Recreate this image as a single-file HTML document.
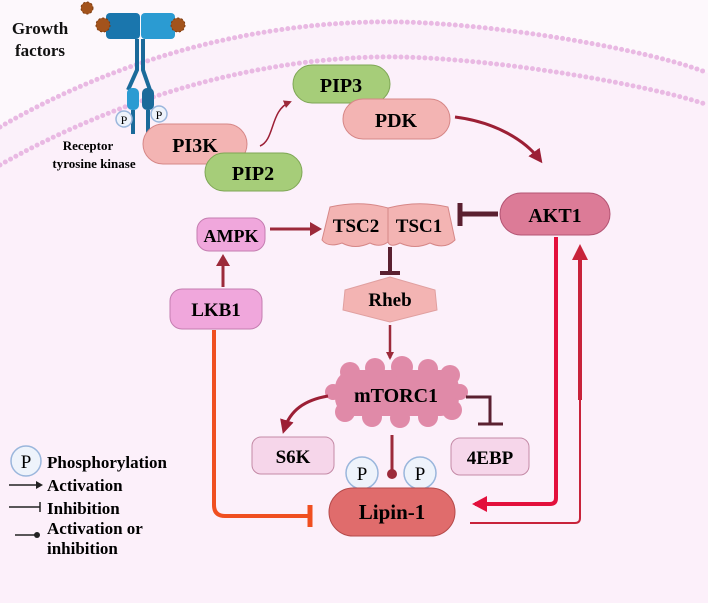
<!DOCTYPE html>
<html><head><meta charset="utf-8"><style>
html,body{margin:0;padding:0;background:#fdf7fc;}
svg{display:block;font-family:"Liberation Serif",serif;font-weight:bold;}
</style></head><body>
<svg width="708" height="603" viewBox="0 0 708 603" xmlns="http://www.w3.org/2000/svg">
<defs>
<marker id="ah" markerWidth="8" markerHeight="8" refX="6" refY="4" orient="auto" markerUnits="userSpaceOnUse"><path d="M0,0 L8,4 L0,8 z" fill="#9c2a3a"/></marker>
<marker id="ahb" markerWidth="14" markerHeight="14" refX="10" refY="7" orient="auto" markerUnits="userSpaceOnUse"><path d="M0,0 L14,7 L0,14 z" fill="#9c1f35"/></marker>
</defs>
<rect width="708" height="603" fill="#fdf8fc"/>
<path d="M0,165 C150,80 300,55 400,57 S650,85 708,105 L708,603 L0,603 z" fill="#fcf0fa"/>
<path d="M0,127 C150,40 300,20 400,22 S650,50 708,73 L708,105 S650,85 400,57 C300,55 150,80 0,165 z" fill="#fbf1fa"/>
<path d="M0,127 C150,40 300,20 400,22 S650,50 708,73" fill="none" stroke="#e9b9e3" stroke-width="5" stroke-linecap="round" stroke-dasharray="0 6"/>
<path d="M0,165 C150,80 300,55 400,57 S650,85 708,105" fill="none" stroke="#e9b9e3" stroke-width="5" stroke-linecap="round" stroke-dasharray="0 6"/>

<text x="40" y="34" font-size="17" text-anchor="middle" fill="#111">Growth</text>
<text x="40" y="56" font-size="17" text-anchor="middle" fill="#111">factors</text>

<rect x="106" y="13" width="34" height="26" rx="4" fill="#1a76ad"/>
<rect x="141" y="13" width="34" height="26" rx="4" fill="#2b9bd2"/>
<circle cx="87" cy="8" r="6" fill="#a3531c" stroke="#7a3a10" stroke-dasharray="2 2"/>
<circle cx="103" cy="25" r="7" fill="#a3531c" stroke="#7a3a10" stroke-dasharray="2 2"/>
<circle cx="178" cy="25" r="7" fill="#a3531c" stroke="#7a3a10" stroke-dasharray="2 2"/>
<path d="M137,39 L137,70 L128,90 M143,39 L143,70 L150,90" stroke="#1a6a9a" stroke-width="4" fill="none"/>
<rect x="127" y="88" width="12" height="22" rx="5" fill="#2b9bd2"/>
<rect x="142" y="88" width="12" height="22" rx="5" fill="#1a6a9a"/>
<path d="M133,110 L133,134 M148,110 L148,134" stroke="#1a6a9a" stroke-width="4"/>
<circle cx="124" cy="119" r="8" fill="#eef3fb" stroke="#9ab6dc" stroke-width="1.5"/>
<text x="124" y="124" font-size="12" font-weight="normal" text-anchor="middle">P</text>
<circle cx="159" cy="114" r="8" fill="#eef3fb" stroke="#9ab6dc" stroke-width="1.5"/>
<text x="159" y="119" font-size="12" font-weight="normal" text-anchor="middle">P</text>
<text x="88" y="150" font-size="13" text-anchor="middle">Receptor</text>
<text x="94" y="168" font-size="13" text-anchor="middle">tyrosine kinase</text>

<rect x="143" y="124" width="104" height="40" rx="20" fill="#f3b4b3" stroke="#d68787"/>
<text x="195" y="152" font-size="20" text-anchor="middle">PI3K</text>
<rect x="205" y="153" width="97" height="38" rx="19" fill="#a6cd79" stroke="#7ea655"/>
<text x="253" y="180" font-size="20" text-anchor="middle">PIP2</text>
<path d="M260,146 C275,140 270,110 290,102" fill="none" stroke="#9c1f35" stroke-width="1.5" marker-end="url(#ah)"/>
<rect x="293" y="65" width="97" height="38" rx="19" fill="#a6cd79" stroke="#7ea655"/>
<text x="341" y="92" font-size="20" text-anchor="middle">PIP3</text>
<rect x="343" y="99" width="107" height="40" rx="20" fill="#f3b4b3" stroke="#d68787"/>
<text x="396" y="127" font-size="20" text-anchor="middle">PDK</text>
<path d="M455,117 C495,122 525,140 540,160" fill="none" stroke="#9c1f35" stroke-width="3" marker-end="url(#ahb)"/>

<rect x="500" y="193" width="110" height="42" rx="21" fill="#dc7b97" stroke="#b35473"/>
<text x="555" y="222" font-size="20" text-anchor="middle">AKT1</text>
<path d="M498,214 L462,214" stroke="#5a2030" stroke-width="5"/>
<path d="M460,203 L460,226" stroke="#5a2030" stroke-width="5"/>

<path d="M330,207 Q360,200 388,208 Q418,200 448,207 L455,240 Q445,250 430,243 Q415,250 400,243 Q390,248 388,242 Q380,248 370,243 Q355,250 342,243 Q328,248 322,240 z" fill="#f3b4b3" stroke="#d68787"/>
<path d="M388,208 L388,242" stroke="#d68787"/>
<text x="356" y="232" font-size="19" text-anchor="middle">TSC2</text>
<text x="419" y="232" font-size="19" text-anchor="middle">TSC1</text>
<path d="M390,247 L390,272" stroke="#5a2030" stroke-width="4"/>
<path d="M380,273 L400,273" stroke="#5a2030" stroke-width="4"/>

<path d="M345,290 L390,277 L435,290 L437,310 L390,322 L343,310 z" fill="#f3b4b3" stroke="#e0a0a0"/>
<text x="390" y="306" font-size="19" text-anchor="middle">Rheb</text>
<path d="M390,325 L390,358" stroke="#9c2a3a" stroke-width="2.5" marker-end="url(#ah)"/>

<g fill="#e08aa8">
<rect x="335" y="370" width="124" height="46" rx="18"/>
<circle cx="350" cy="372" r="10"/><circle cx="375" cy="368" r="10"/><circle cx="402" cy="367" r="11"/><circle cx="428" cy="369" r="10"/><circle cx="450" cy="375" r="10"/>
<circle cx="345" cy="412" r="10"/><circle cx="372" cy="417" r="10"/><circle cx="400" cy="418" r="10"/><circle cx="428" cy="417" r="10"/><circle cx="452" cy="410" r="10"/>
<circle cx="333" cy="392" r="8"/><circle cx="460" cy="392" r="8"/>
</g>
<text x="396" y="402" font-size="20" text-anchor="middle">mTORC1</text>
<path d="M466,397 L490,397 L490,423" fill="none" stroke="#5a2030" stroke-width="3"/>
<path d="M478,424 L503,424" stroke="#5a2030" stroke-width="3"/>
<path d="M328,396 C305,400 290,410 284,430" fill="none" stroke="#9c1f35" stroke-width="3" marker-end="url(#ahb)"/>

<rect x="252" y="437" width="82" height="37" rx="9" fill="#f6d6ea" stroke="#c48aa6"/>
<text x="293" y="463" font-size="19" text-anchor="middle">S6K</text>
<rect x="451" y="438" width="78" height="37" rx="9" fill="#f6d6ea" stroke="#c48aa6"/>
<text x="490" y="464" font-size="19" text-anchor="middle">4EBP</text>

<path d="M392,435 L392,472" stroke="#9c2a3a" stroke-width="3"/>
<circle cx="392" cy="474" r="5" fill="#9c2a3a"/>
<circle cx="362" cy="473" r="16" fill="#eef3fb" stroke="#9ab6dc" stroke-width="1.5"/>
<text x="362" y="480" font-size="19" font-weight="normal" text-anchor="middle">P</text>
<circle cx="420" cy="473" r="16" fill="#eef3fb" stroke="#9ab6dc" stroke-width="1.5"/>
<text x="420" y="480" font-size="19" font-weight="normal" text-anchor="middle">P</text>

<rect x="329" y="488" width="126" height="48" rx="24" fill="#e06c6c" stroke="#b54a4a"/>
<text x="392" y="519" font-size="21" text-anchor="middle">Lipin-1</text>

<rect x="197" y="218" width="68" height="33" rx="12" fill="#f0a7dc" stroke="#c47db0"/>
<text x="231" y="242" font-size="18" text-anchor="middle">AMPK</text>
<path d="M270,229 L312,229" stroke="#9c2a3a" stroke-width="3"/>
<path d="M310,222 L322,229 L310,236 z" fill="#9c2a3a"/>
<rect x="170" y="289" width="92" height="40" rx="12" fill="#f0a7dc" stroke="#c47db0"/>
<text x="216" y="316" font-size="19" text-anchor="middle">LKB1</text>
<path d="M223,287 L223,264" stroke="#9c2a3a" stroke-width="3"/>
<path d="M216,266 L223,254 L230,266 z" fill="#9c2a3a"/>
<path d="M214,330 L214,505 Q214,516 225,516 L308,516" fill="none" stroke="#f04f20" stroke-width="4"/>
<path d="M310,505 L310,527" stroke="#f04f20" stroke-width="5"/>

<path d="M556,237 L556,498 Q556,504 550,504 L475,504" fill="none" stroke="#e3103c" stroke-width="4"/>
<path d="M472,504 L487,496 L487,512 z" fill="#e3103c"/>
<path d="M470,523 L575,523 Q580,523 580,518 L580,255" fill="none" stroke="#c8233a" stroke-width="2"/>
<path d="M580,400 L580,255" stroke="#c8233a" stroke-width="4"/>
<path d="M572,260 L580,244 L588,260 z" fill="#c8233a"/>

<circle cx="26" cy="461" r="15" fill="#eef3fb" stroke="#9ab6dc" stroke-width="1.5"/>
<text x="26" y="468" font-size="19" font-weight="normal" text-anchor="middle">P</text>
<text x="47" y="468" font-size="17">Phosphorylation</text>
<path d="M9,485 L38,485" stroke="#222" stroke-width="1.5"/><path d="M36,481 L43,485 L36,489 z" fill="#222"/>
<text x="47" y="491" font-size="17">Activation</text>
<path d="M9,507 L40,507" stroke="#222" stroke-width="1.5"/><path d="M40,502 L40,512" stroke="#222" stroke-width="1.5"/>
<text x="47" y="514" font-size="17">Inhibition</text>
<path d="M15,535 L36,535" stroke="#222" stroke-width="1.5"/><circle cx="37" cy="535" r="3" fill="#222"/>
<text x="47" y="534" font-size="17">Activation or</text>
<text x="47" y="554" font-size="17">inhibition</text>
</svg>
</body></html>
